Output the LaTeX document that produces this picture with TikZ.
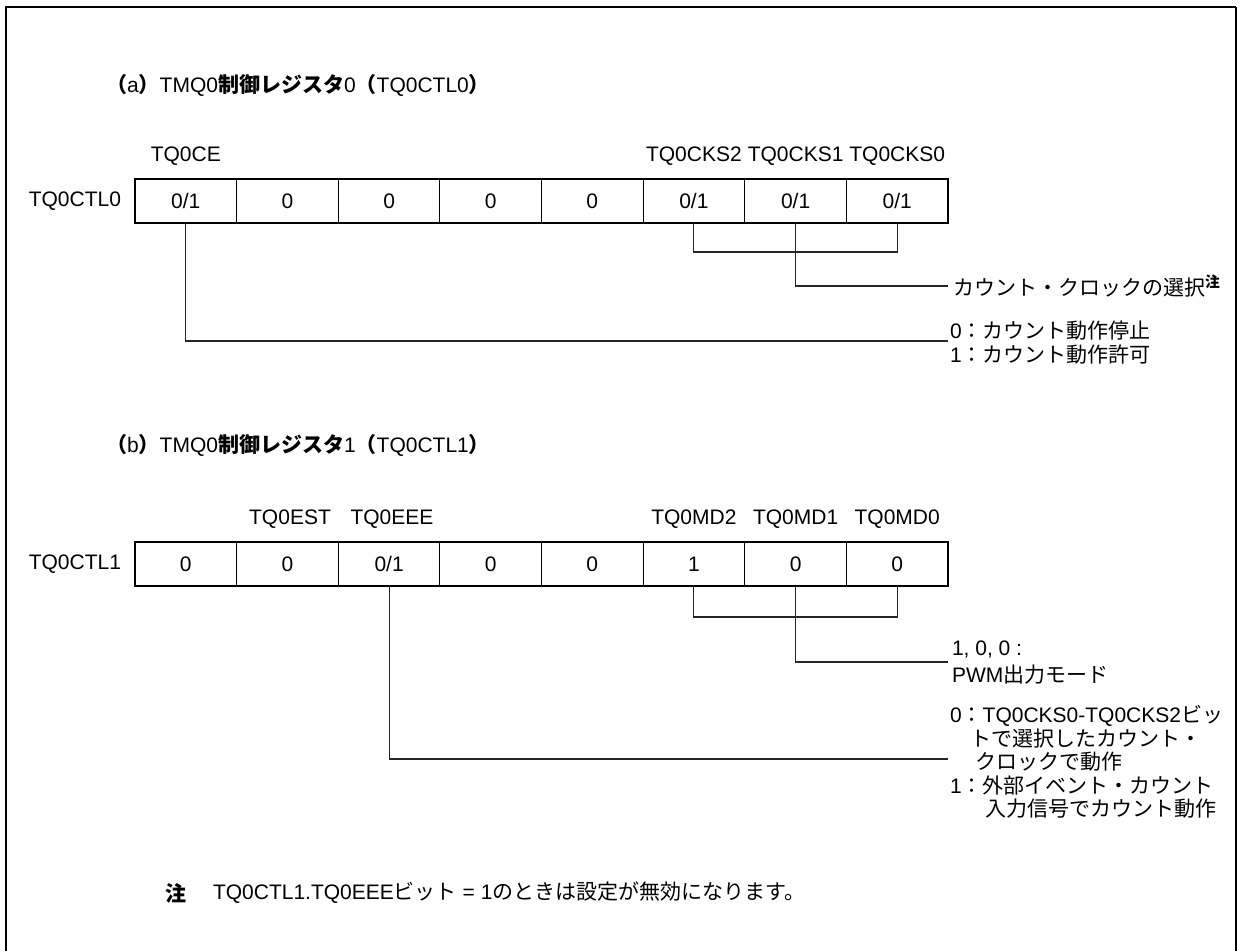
\documentclass[tikz,border=0pt]{standalone}
\usepackage{fontspec}
\setmainfont{Liberation Sans}
\newfontfamily\jp{Noto Sans CJK JP}
\newcommand\J[1]{{\jp #1}}
\newcommand\JB[1]{{\jp\bfseries #1}}
\begin{document}
\begin{tikzpicture}[x=0.5pt,y=-0.5pt,
  every node/.style={font=\fontsize{10.5pt}{12.5pt}\selectfont, inner sep=0pt, outer sep=0pt},
  cell/.style={draw, line width=0.5pt, minimum width=50.8125pt, minimum height=22pt, anchor=center},
  regbox/.style={draw, line width=1.3pt},
  conn/.style={draw, line width=0.55pt, black!85},
  txt/.style={anchor=west},
  frameline/.style={line width=1.4pt}]
\useasboundingbox (0,0) rectangle (1241,951);

% outer frame (open at the bottom)
\draw[frameline] (6,951) -- (6,7) -- (1236,7);
\draw[line width=0.8pt] (1236,7) -- (1236,951);

% ---------------- (a) ----------------
\node[anchor=west] (ta) at (106,85) {\JB{（}a\JB{）}TMQ0\JB{制御レジスタ}0\JB{（}TQ0CTL0\JB{）}};

\node[anchor=east] (ra) at (121,201) {TQ0CTL0};
\node[cell] (a1) at (185.8,201) {0/1};
\node[cell] (a2) at (287.4,201) {0};
\node[cell] (a3) at (389.1,201) {0};
\node[cell] (a4) at (490.7,201) {0};
\node[cell] (a5) at (592.3,201) {0};
\node[cell] (a6) at (693.9,201) {0/1};
\node[cell] (a7) at (795.6,201) {0/1};
\node[cell] (a8) at (897.2,201) {0/1};
\draw[regbox] (a1.north west) rectangle (a8.south east);

\node (la1) at (185.8,156) {TQ0CE};
\node (la6) at (693.9,156) {TQ0CKS2};
\node (la7) at (795.6,156) {TQ0CKS1};
\node (la8) at (897.2,156) {TQ0CKS0};

\coordinate (ma) at (795.6,252);
\coordinate (ea1) at (948,286);
\coordinate (ea2) at (948,341);
\draw[conn] (a6.south) |- (ma) -| (a8.south);
\draw[conn] (a7.south) |- (ea1);
\draw[conn] (a1.south) |- (ea2);

\node[txt] (ka) at (953,286) {\J{カウント・クロックの選択}\textsuperscript{\JB{注}}};
\node[txt] (sa0) at (950,331) {0\J{：カウント動作停止}};
\node[txt] (sa1) at (950,355) {1\J{：カウント動作許可}};

% ---------------- (b) ----------------
\node[anchor=west] (tb) at (106,445) {\JB{（}b\JB{）}TMQ0\JB{制御レジスタ}1\JB{（}TQ0CTL1\JB{）}};

\node[anchor=east] (rb) at (121,564) {TQ0CTL1};
\node[cell] (b1) at (185.8,564) {0};
\node[cell] (b2) at (287.4,564) {0};
\node[cell] (b3) at (389.1,564) {0/1};
\node[cell] (b4) at (490.7,564) {0};
\node[cell] (b5) at (592.3,564) {0};
\node[cell] (b6) at (693.9,564) {1};
\node[cell] (b7) at (795.6,564) {0};
\node[cell] (b8) at (897.2,564) {0};
\draw[regbox] (b1.north west) rectangle (b8.south east);

\node (lb2) at (290,519) {TQ0EST};
\node (lb3) at (392,519) {TQ0EEE};
\node (lb6) at (693.9,519) {TQ0MD2};
\node (lb7) at (795.6,519) {TQ0MD1};
\node (lb8) at (897.2,519) {TQ0MD0};

\coordinate (mb) at (795.6,617);
\coordinate (eb1) at (948,662);
\coordinate (eb2) at (948,759);
\draw[conn] (b6.south) |- (mb) -| (b8.south);
\draw[conn] (b7.south) |- (eb1);
\draw[conn] (b3.south) |- (eb2);

\node[txt] (pb1) at (952,650) {1, 0, 0 :};
\node[txt] (pb2) at (952,675) {PWM\J{出力モード}};
\node[txt] (eb0a) at (950,716) {0\J{：}TQ0CKS0-TQ0CKS2\J{ビッ}};
\node[txt] (eb0b) at (970,739) {\J{トで選択したカウント・}};
\node[txt] (eb0c) at (975,762) {\J{クロックで動作}};
\node[txt] (eb1a) at (950,786) {1\J{：外部イベント・カウント}};
\node[txt] (eb1b) at (985,809) {\J{入力信号でカウント動作}};

% ---------------- note ----------------
\node[anchor=west] (nz) at (165,893) {\JB{注}};
\node[anchor=west] (nt) at (213,893) {TQ0CTL1.TQ0EEE\J{ビット} = 1\J{のときは設定が無効になります。}};
\end{tikzpicture}
\end{document}
